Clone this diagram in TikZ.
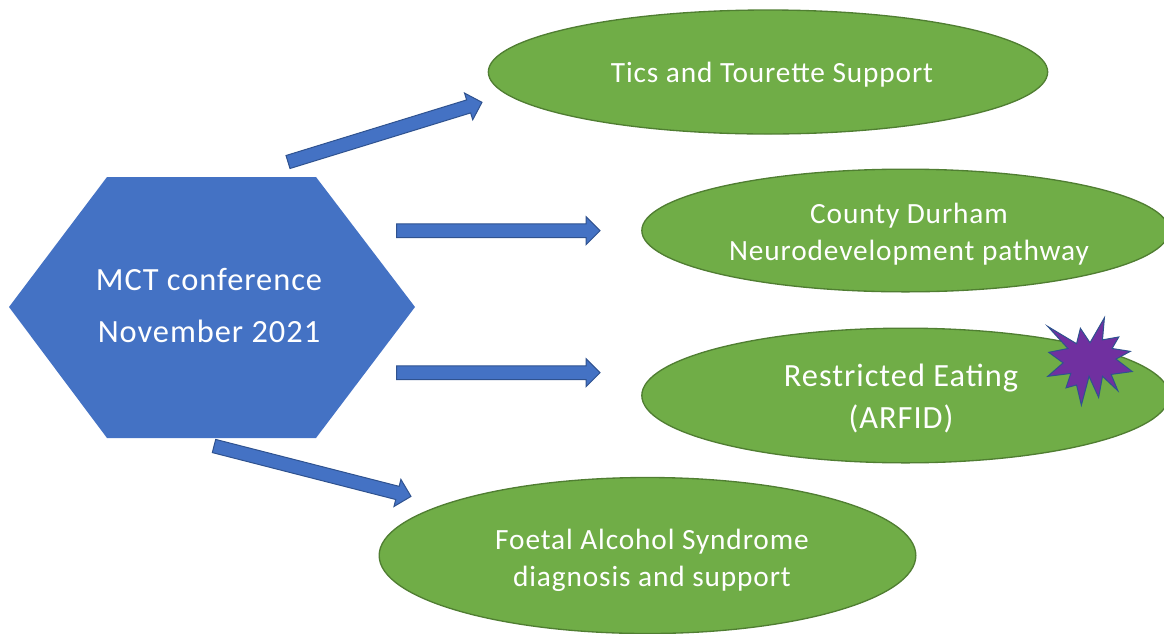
\documentclass[tikz,border=0pt]{standalone}
\usepackage{fontspec}
\setmainfont[LetterSpace=3]{Carlito}
\usetikzlibrary{shapes.geometric,calc}
\newcommand{\blockarrow}[2]{%
  \draw[blockarrowstyle]
    ($(#1)!5.1pt!90:(#2)$) --
    ($(#2)!10.5pt!(#1)!5.1pt!-90:(#1)$) --
    ($(#2)!10.5pt!(#1)!10.5pt!-90:(#1)$) --
    (#2) --
    ($(#2)!10.5pt!(#1)!10.5pt!90:(#1)$) --
    ($(#2)!10.5pt!(#1)!5.1pt!90:(#1)$) --
    ($(#1)!5.1pt!-90:(#2)$) -- cycle;}
\definecolor{hexblue}{HTML}{4472C4}
\definecolor{arrowedge}{HTML}{2F528F}
\definecolor{ovalgreen}{HTML}{70AD47}
\definecolor{ovaledge}{HTML}{507E32}
\definecolor{starpurple}{HTML}{7030A0}
\tikzset{
  blockarrowstyle/.style={fill=hexblue,draw=arrowedge,line width=0.75pt,line join=miter},
  oval/.style={ellipse,fill=ovalgreen,draw=ovaledge,line width=1pt,inner sep=0pt},
  ovaltext/.style={text=white,align=center,font=\fontsize{22}{27.5}\selectfont},
}
\begin{document}
\begin{tikzpicture}[x=0.75pt,y=-0.75pt]
\useasboundingbox (0,0) rectangle (1164,633);
\clip (0,0) rectangle (1164,633);
% hexagon
\fill[hexblue] (9,307) -- (107,177) -- (316,177) -- (415,307) -- (316,438) -- (107,438) -- cycle;
\node[text=white,align=center,font=\fontsize{24.3}{39}\selectfont,inner sep=0pt] (mct) at (209,305) {MCT conference\\November 2021};
% ovals
\node[oval,minimum width=419.5pt,minimum height=93pt] (tics) at (768,72) {};
\node[ovaltext] (ticstext) at (772,75) {Tics and Tourette Support};
\node[oval,minimum width=395.5pt,minimum height=92pt] (durham) at (905.5,230.5) {};
\node[ovaltext] (durhamtext) at (909,234) {County Durham\\Neurodevelopment pathway};
\node[oval,minimum width=395.5pt,minimum height=101pt] (eating) at (905.5,395.5) {};
\node[ovaltext,font=\fontsize{24.3}{31.5}\selectfont] (eatingtext) at (901,398) {Restricted Eating\\(ARFID)};
\node[oval,minimum width=402.5pt,minimum height=117pt] (foetal) at (647.5,555.5) {};
\node[ovaltext] (foetaltext) at (652,560.5) {Foetal Alcohol Syndrome\\diagnosis and support};
% star
\begin{scope}[shift={(1090,360)},scale=0.96,shift={(-1090,-360)}]
\draw[fill=starpurple,draw=arrowedge,line width=0.75pt,line join=miter]
 (1105,316) -- (1103,339) -- (1120,336) -- (1113,348) -- (1132,351) -- (1117,359) -- (1134,372) -- (1112,375)
 -- (1119,392) -- (1103,377) -- (1099,399) -- (1089,377) -- (1081,407) -- (1076,386) -- (1065,389) -- (1070,374)
 -- (1046,377) -- (1062,363) -- (1047,352) -- (1067,348) -- (1046,325) -- (1076,343) -- (1080,327) -- (1090,342) -- cycle;
\end{scope}
% arrows
\coordinate (a1s) at (288,162);
\coordinate (a1e) at (482,102.3);
\coordinate (a2s) at (396.5,230.7);
\coordinate (a2e) at (600,230.7);
\coordinate (a3s) at (396.5,372.7);
\coordinate (a3e) at (600,372.7);
\coordinate (a4s) at (214,446);
\coordinate (a4e) at (411,496.4);
\blockarrow{a1s}{a1e}
\blockarrow{a2s}{a2e}
\blockarrow{a3s}{a3e}
\blockarrow{a4s}{a4e}
\end{tikzpicture}
\end{document}
